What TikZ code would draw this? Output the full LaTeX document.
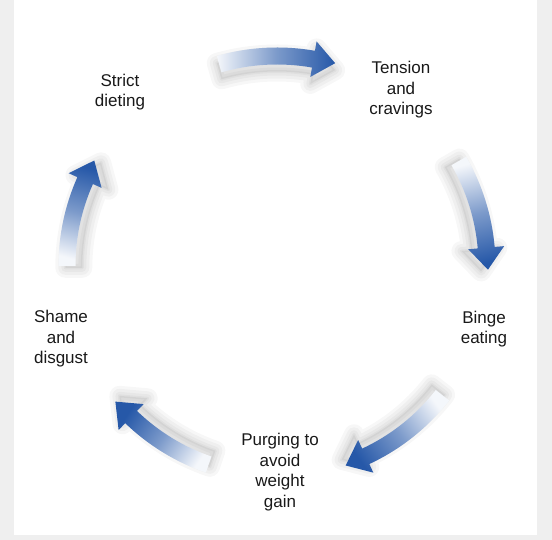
\documentclass[tikz,border=0pt]{standalone}
\usepackage{fontspec}
\setmainfont{Liberation Sans}
\usepackage{tikz}
\definecolor{cycleblue}{RGB}{38,88,168}
\definecolor{pagegray}{RGB}{239,239,239}
\definecolor{stagetext}{RGB}{25,25,25}

\begin{document}
\begin{tikzpicture}[
    x=1pt, y=1pt,
    stage/.style={align=center, text=stagetext, font=\fontsize{17}{20.5}\selectfont},
    cycarrow/.style={shade, bottom color=cycleblue!5, top color=cycleblue, middle color=cycleblue!60},
    haze/.style={draw=black, draw opacity=0.03, line join=round, line width=#1},
    glow/.style 2 args={
        preaction={haze=20pt, transform canvas={xshift=#1, yshift=#2}},
        preaction={haze=14pt, transform canvas={xshift=#1, yshift=#2}},
        preaction={haze=8pt, transform canvas={xshift=#1, yshift=#2}},
        preaction={haze=3pt, transform canvas={xshift=#1, yshift=#2}},
        preaction={fill=black, fill opacity=0.05, transform canvas={xshift=#1, yshift=#2}}}
]
    % Page
    \useasboundingbox (-277,-274) rectangle (275,266);
    \fill[pagegray] (-277,-274) rectangle (275,266);
    \fill[white] (-263,-269) rectangle (260,266);
    \coordinate (hub) at (0,0);

    % Stages
    \node[stage] (diet) at (-157,174) {Strict\\dieting};
    \node[stage] (tension) at (124,176) {Tension\\and\\cravings};
    \node[stage] (binge) at (207,-63) {Binge\\eating};
    \node[stage] (purge) at (3,-206) {Purging to\\avoid\\weight\\gain};
    \node[stage] (shame) at (-216,-73) {Shame\\and\\disgust};

    % Arrows
    \path[cycarrow, shading angle=-90, glow={0pt}{-7pt}]
        (106:218.5) arc[start angle=106, end angle=80, radius=218.5] -- (80:228) -- (74:211)
        -- (80:192) -- (80:201.5) arc[start angle=80, end angle=106, radius=201.5] -- cycle;
    \path[cycarrow, shading angle=-165.5, glow={-6.8pt}{-1.8pt}]
        (30:218.5) arc[start angle=30, end angle=5, radius=218.5] -- (5:228) -- (-1:211)
        -- (5:192) -- (5:201.5) arc[start angle=5, end angle=30, radius=201.5] -- cycle;
    \path[cycarrow, shading angle=-234.5, glow={-4.1pt}{5.7pt}]
        (-38:218.5) arc[start angle=-38, end angle=-65, radius=218.5] -- (-65:228) -- (-71:211)
        -- (-65:192) -- (-65:201.5) arc[start angle=-65, end angle=-38, radius=201.5] -- cycle;
    \path[cycarrow, shading angle=-304.5, glow={4pt}{5.8pt}]
        (-109:218.5) arc[start angle=-109, end angle=-134, radius=218.5] -- (-134:228) -- (-140:211)
        -- (-134:192) -- (-134:201.5) arc[start angle=-134, end angle=-109, radius=201.5] -- cycle;
    \path[cycarrow, shading angle=-15, glow={6.8pt}{-1.8pt}]
        (180:218.5) arc[start angle=180, end angle=156, radius=218.5] -- (156:228) -- (150:211)
        -- (156:192) -- (156:201.5) arc[start angle=156, end angle=180, radius=201.5] -- cycle;
\end{tikzpicture}
\end{document}
